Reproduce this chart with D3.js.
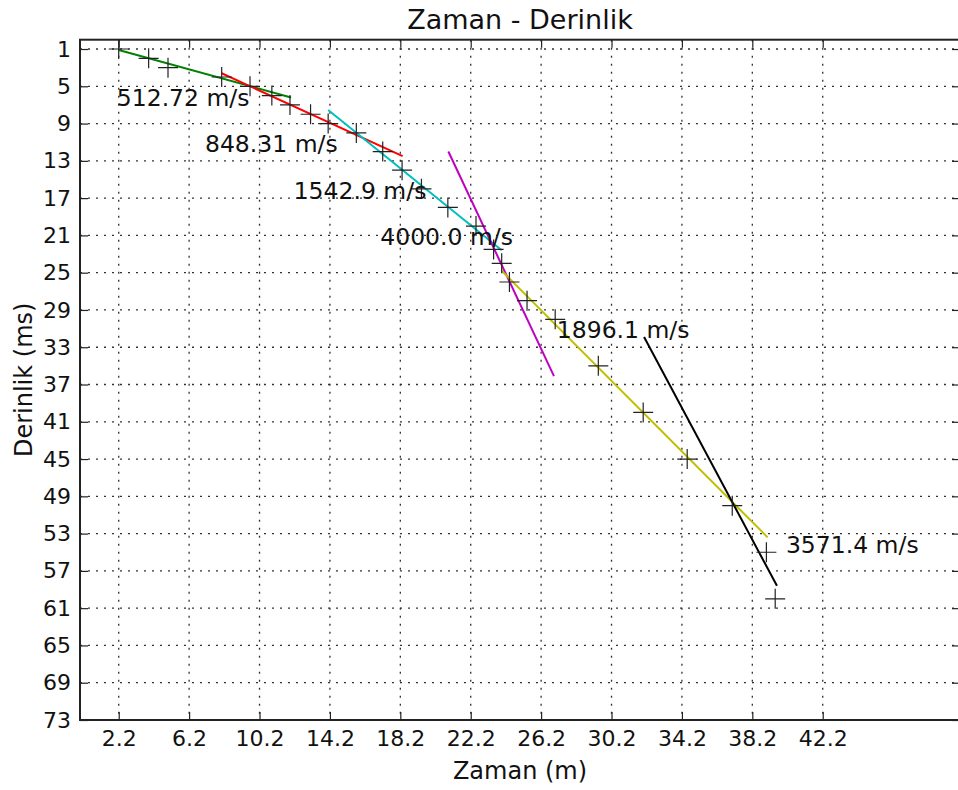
<!DOCTYPE html>
<html>
<head>
<meta charset="utf-8">
<script src="https://cdn.jsdelivr.net/npm/d3@7"></script>
<style>
  html, body { margin: 0; padding: 0; background: #fff; }
  svg { display: block; font-family: "DejaVu Sans", sans-serif; }
</style>
</head>
<body>
<svg id="chart" width="958" height="790"></svg>
<script>
// ---- data ----
const pointX = [2.2, 3.9, 5.0, 8.05, 9.66, 10.9, 11.93, 13.1, 14.1, 15.7, 17.2, 18.3, 19.4, 20.9, 22.5, 23.5, 23.96, 24.4, 25.4, 27.0, 29.45, 32.0, 34.5, 37.06, 39.0, 39.5];
const pointY = [1, 2, 3, 4, 5, 6, 7, 8, 9, 10, 12, 14, 16, 18, 20, 22.5, 24, 26, 28, 30, 35, 40, 45, 50, 55, 60];

// fitted velocity segments (start / end in data units)
const fitNames  = ["512.72 m/s", "848.31 m/s", "1542.9 m/s", "4000.0 m/s", "1896.1 m/s", "3571.4 m/s"];
const fitColors = ["#008000", "#ff0000", "#00bfbf", "#bf00bf", "#bfbf00", "#000000"];
const fitX0 = [2.2, 8.05, 14.1, 20.93, 23.96, 32.05];
const fitY0 = [1.1, 3.6, 7.55, 12.0, 24.8, 31.9];
const fitX1 = [11.99, 18.33, 23.96, 26.93, 39.07, 39.6];
const fitY1 = [6.2, 12.5, 22.6, 36.1, 53.4, 58.6];
// label anchors (data units, left/baseline)
const labelX = [2.09, 7.1, 12.14, 17.06, 27.09, 40.11];
const labelY = [7.11, 12.0, 17.1, 22.0, 32.04, 55.1];

const xTicks = [2.2, 6.2, 10.2, 14.2, 18.2, 22.2, 26.2, 30.2, 34.2, 38.2, 42.2];
const yTicks = [1, 5, 9, 13, 17, 21, 25, 29, 33, 37, 41, 45, 49, 53, 57, 61, 65, 69, 73];
const xDomain = [0, 50];
const yDomain = [0, 73];

const title = "Zaman - Derinlik";
const xLabel = "Zaman (m)";
const yLabel = "Derinlik (ms)";

// ---- layout ----
const svg = d3.select("#chart");
const L = 80, R = 960, T = 39.7, B = 720;

const x = d3.scaleLinear().domain(xDomain).range([L, R]);
const y = d3.scaleLinear().domain(yDomain).range([T, B]);

// grid
const grid = svg.append("g").attr("stroke", "#333").attr("stroke-width", 1.3)
  .attr("stroke-dasharray", "2,6");
grid.selectAll("line.gx").data(xTicks).join("line")
  .attr("x1", d => x(d)).attr("x2", d => x(d)).attr("y1", T).attr("y2", B);
grid.selectAll("line.gy").data(yTicks).join("line")
  .attr("y1", d => y(d)).attr("y2", d => y(d)).attr("x1", L).attr("x2", R);

// axes (ticks inward)
const fmtX = d => d.toFixed(1);
const axB = svg.append("g").attr("transform", `translate(0,${B})`)
  .call(d3.axisBottom(x).tickValues(xTicks).tickFormat(fmtX).tickSizeInner(-8).tickSizeOuter(0).tickPadding(10));
const axT = svg.append("g").attr("transform", `translate(0,${T})`)
  .call(d3.axisTop(x).tickValues(xTicks).tickFormat("").tickSizeInner(-8).tickSizeOuter(0));
const axL = svg.append("g").attr("transform", `translate(${L},0)`)
  .call(d3.axisLeft(y).tickValues(yTicks).tickFormat(d3.format("d")).tickSizeInner(-8).tickSizeOuter(0).tickPadding(9));
const axR = svg.append("g").attr("transform", `translate(${R},0)`)
  .call(d3.axisRight(y).tickValues(yTicks).tickFormat("").tickSizeInner(-8).tickSizeOuter(0));

[axB, axT, axL, axR].forEach(a => {
  a.select(".domain").remove();
  a.selectAll(".tick line").attr("stroke", "#222").attr("stroke-width", 1.2);
  a.selectAll(".tick text").attr("fill", "#111").attr("font-size", 22)
    .attr("font-family", "DejaVu Sans");
});
axB.selectAll(".tick text").attr("dy", "0.71em");

// frame
svg.append("rect").attr("x", L).attr("y", T).attr("width", R - L).attr("height", B - T)
  .attr("fill", "none").attr("stroke", "#222").attr("stroke-width", 2);

// fitted lines
svg.append("g").selectAll("line").data(fitNames).join("line")
  .attr("x1", (d, i) => x(fitX0[i])).attr("y1", (d, i) => y(fitY0[i]))
  .attr("x2", (d, i) => x(fitX1[i])).attr("y2", (d, i) => y(fitY1[i]))
  .attr("stroke", (d, i) => fitColors[i]).attr("stroke-width", 2);

// markers "+"
const ms = 10;
const mk = svg.append("g").attr("stroke", "#222").attr("stroke-width", 1.2);
const pts = pointX.map((v, i) => [v, pointY[i]]);
mk.selectAll("path").data(pts).join("path")
  .attr("d", d => {
    const cx = x(d[0]), cy = y(d[1]);
    return `M${cx - ms},${cy}H${cx + ms}M${cx},${cy - ms}V${cy + ms}`;
  });

// labels
svg.append("g").selectAll("text").data(fitNames).join("text")
  .attr("x", (d, i) => x(labelX[i])).attr("y", (d, i) => y(labelY[i]))
  .attr("font-size", 23.5).attr("fill", "#111").text(d => d);

// title and axis labels
svg.append("text").attr("x", (L + R) / 2).attr("y", 28.5).attr("text-anchor", "middle")
  .attr("font-size", 27).attr("fill", "#111").text(title);
svg.append("text").attr("x", (L + R) / 2).attr("y", 779).attr("text-anchor", "middle")
  .attr("font-size", 24).attr("fill", "#111").text(xLabel);
svg.append("text").attr("transform", `translate(31.5,${(T + B) / 2}) rotate(-90)`)
  .attr("text-anchor", "middle").attr("font-size", 24).attr("fill", "#111").text(yLabel);
</script>
</body>
</html>
